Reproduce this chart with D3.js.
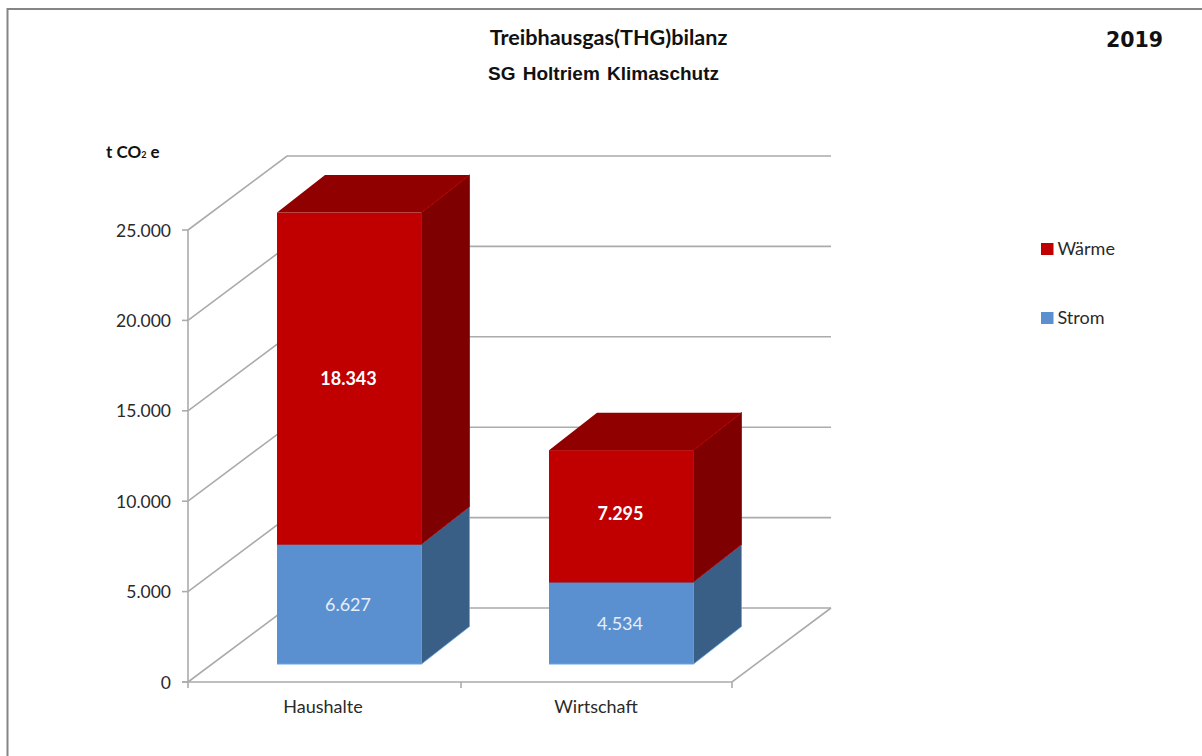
<!DOCTYPE html>
<html><head><meta charset="utf-8">
<script src="https://cdnjs.cloudflare.com/ajax/libs/d3/7.8.5/d3.min.js"></script>
<style>html,body{margin:0;padding:0;background:#fff}svg{display:block}text{font-family:"Lato","Open Sans",sans-serif}</style>
</head><body><svg id="c" width="1202" height="756"></svg>
<script>
const categories=["Haushalte","Wirtschaft"];
const strom=[6627,4534];
const waerme=[18343,7295];
const stromLabels=["6.627","4.534"];
const waermeLabels=["18.343","7.295"];
const ticks=[0,5000,10000,15000,20000,25000];
const tickLabels=["0","5.000","10.000","15.000","20.000","25.000"];
const legendItems=["Wärme","Strom"];

const svg=d3.select("#c");
const y=d3.scaleLinear().domain([0,25000]).range([682,230]);
const x=d3.scaleBand().domain(categories).range([188,732]);
const dx=99,dy=-74,bdx=48,bdy=-37.5;
const barW=145;
const grey="#ababab";
const sw=1.6;
svg.append("path").attr("d","M7.5,756V9H1202").attr("fill","none").attr("stroke","#858585").attr("stroke-width",2);
ticks.forEach(t=>{
  const Y=y(t);
  svg.append("path").attr("d",`M188,${Y}L${188+dx},${Y+dy}H831`).attr("fill","none").attr("stroke",grey).attr("stroke-width",sw);
});
svg.append("path").attr("d",`M188,${y(0)}V${y(25000)}`).attr("stroke",grey).attr("stroke-width",sw);
svg.append("path").attr("d",`M182,${y(0)}H732L831,${y(0)+dy}`).attr("fill","none").attr("stroke",grey).attr("stroke-width",sw);
ticks.forEach((t,i)=>{
  svg.append("line").attr("x1",182).attr("x2",188).attr("y1",y(t)).attr("y2",y(t)).attr("stroke",grey).attr("stroke-width",sw);
  svg.append("text").attr("x",171).attr("y",y(t)+6.5).attr("text-anchor","end").attr("font-size",17.5).attr("fill","#2a2a2a").text(tickLabels[i]);
});
[188,461,732].forEach(X=>svg.append("line").attr("x1",X).attr("x2",X).attr("y1",682).attr("y2",688).attr("stroke",grey).attr("stroke-width",sw));
categories.forEach((c,i)=>svg.append("text").attr("x",x(c)+x.bandwidth()/2+[-1,0][i]).attr("y",713).attr("text-anchor","middle").attr("font-size",18).attr("fill","#2a2a2a").text(c));
const base=664;
const h=d3.scaleLinear().domain([0,25000]).range([0,y(0)-y(25000)]);
const lefts=[277,549];
function seg(i,v0,v1,front,side,top,edge,label,bold,nudge){
  const L=lefts[i],R=L+barW-.5,Y0=base-h(v0),Y1=base-h(v1);
  svg.append("path").attr("d",`M${R},${Y0}V${Y1}l${bdx},${bdy}V${Y0+bdy}Z`).attr("fill",side).attr("stroke",edge).attr("stroke-width",.8);
  svg.append("rect").attr("x",L).attr("y",Y1).attr("width",barW-.5).attr("height",Y0-Y1).attr("fill",front);
  svg.append("path").attr("d",`M${L},${Y0}H${R}`).attr("stroke",edge).attr("stroke-width",1);
  if(top) svg.append("path").attr("d",`M${L},${Y1}H${R}l${bdx},${bdy}H${L+bdx}Z`).attr("fill",top);
  if(top) svg.append("path").attr("d",`M${R},${Y1}l${bdx},${bdy}`).attr("stroke",edge).attr("stroke-width",.8);
  svg.append("text").attr("x",L+barW/2-(bold?1:1.5)).attr("y",(Y0+Y1)/2+6.5+nudge).attr("text-anchor","middle").attr("font-size",18).attr("font-weight",bold?700:400).attr("fill",bold?"#fff":"#e6eef8").text(label);
}
categories.forEach((c,i)=>{
  seg(i,0,strom[i],"#5b90d0","#3a5f87",null,"#62a5ea",stromLabels[i],false,0);
  seg(i,strom[i],strom[i]+waerme[i],"#c00000","#7f0000","#900000","#b00000",waermeLabels[i],true,i?-3:0);
});
svg.append("text").attr("x",608.5).attr("y",45).attr("text-anchor","middle").attr("font-size",21.6).attr("font-weight",700).attr("fill","#111").text("Treibhausgas(THG)bilanz");
svg.append("text").attr("x",603.5).attr("y",80).attr("text-anchor","middle").attr("font-size",19).attr("font-weight",700).attr("fill","#111").attr("word-spacing",2).style("font-family","Liberation Sans").text("SG Holtriem Klimaschutz");
svg.append("text").attr("x",1134.5).attr("y",47).attr("text-anchor","middle").attr("font-size",20.5).attr("font-weight",700).attr("fill","#111").style("font-family","DejaVu Sans").text("2019");
const yl=svg.append("text").attr("x",106).attr("y",158).attr("font-size",17).attr("font-weight",700).attr("fill","#111");
yl.append("tspan").text("t CO");yl.append("tspan").attr("font-size",9).text("2");yl.append("tspan").text(" e");
[["#c00000",249],["#5b90d0",318]].forEach((d,i)=>{
  svg.append("rect").attr("x",1041).attr("y",d[1]-6).attr("width",12.5).attr("height",12).attr("fill",d[0]);
  svg.append("text").attr("x",1057.5).attr("y",d[1]+6).attr("font-size",18).attr("fill","#2a2a2a").text(legendItems[i]);
});
</script></body></html>
